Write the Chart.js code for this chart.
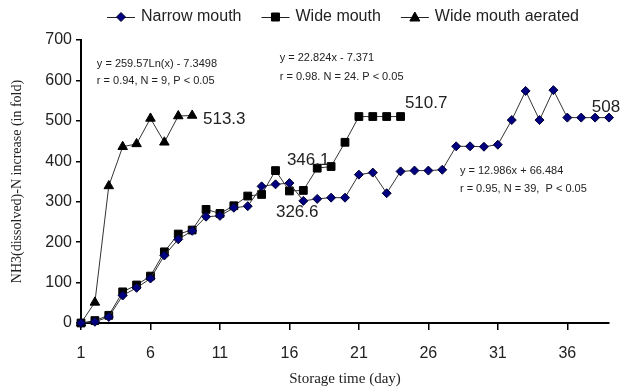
<!DOCTYPE html>
<html><head><meta charset="utf-8">
<script src="https://cdn.jsdelivr.net/npm/chart.js@4.4.0/dist/chart.umd.min.js"></script>
<style>html,body{margin:0;padding:0;background:#fff}#wrap{position:relative;width:622px;height:389px}</style>
</head><body><div id="wrap"><canvas id="c" width="622" height="389"></canvas></div>
<script>
// Storage day categories
const days = [1,2,3,4,5,6,7,8,9,10,11,12,13,14,15,16,17,18,19,20,21,22,23,24,25,26,27,28,29,30,31,32,33,34,35,36,37,38,39];
// Series values (NH3(dissolved)-N increase, in fold)
const narrowMouth = [0,3,15,68,87,110,167,207,228,263,265,285,289,338,343,346.1,302,307,310,310,367,372,321,375,377,377,379,437,437,436,441,502,574,502,576,508,508,508,508];
const wideMouth = [0,6,19,77,94,116,176,220,230,281,271,290,314,318,377,326.6,328,383,387,447,510.7,510.7,510.7,510.7];
const wideMouthAerated = [0,51,339,436,443,506,447,512,513.3];
// Tick labels
const xTicks = [1,6,11,16,21,26,31,36];
const yTicks = [0,100,200,300,400,500,600,700];
const seriesNames = ['Narrow mouth','Wide mouth','Wide mouth aerated'];

const toPts = (vals) => vals.map((v,i)=>({x: days[i], y: v}));

const annotations = [
  {text:'y = 259.57Ln(x) - 7.3498', x:2.14, y:640, size:11},
  {text:'r = 0.94, N = 9, P < 0.05', x:2.14, y:598, size:11},
  {text:'y = 22.824x - 7.371', x:15.30, y:655, size:11},
  {text:'r = 0.98. N = 24. P < 0.05', x:15.30, y:608, size:11},
  {text:'y = 12.986x + 66.484', x:28.27, y:377, size:11},
  {text:'r = 0.95, N = 39,  P < 0.05', x:28.27, y:332, size:11},
  {text:'513.3', x:9.78, y:505, size:17},
  {text:'510.7', x:24.31, y:544, size:17},
  {text:'508', x:37.76, y:534, size:17},
  {text:'346.1', x:15.82, y:402, size:17},
  {text:'326.6', x:15.03, y:274, size:17}
];

function drawMarker(ctx, kind, x, y){
  ctx.save();
  ctx.beginPath();
  if(kind==='diamond'){
    ctx.moveTo(x, y-4.5); ctx.lineTo(x+4.5, y); ctx.lineTo(x, y+4.5); ctx.lineTo(x-4.5, y); ctx.closePath();
    ctx.fillStyle='#000080'; ctx.strokeStyle='#000033';
  } else if(kind==='square'){
    ctx.rect(x-4, y-4, 8, 8); ctx.fillStyle='#000'; ctx.strokeStyle='#000';
  } else {
    ctx.moveTo(x, y-5); ctx.lineTo(x+5, y+4); ctx.lineTo(x-5, y+4); ctx.closePath();
    ctx.fillStyle='#000'; ctx.strokeStyle='#000';
  }
  ctx.fill(); ctx.lineWidth=1; ctx.stroke();
  ctx.restore();
}

const overlay = {
  id:'overlay',
  afterDraw(chart){
    const ctx = chart.ctx, xs = chart.scales.x, ys = chart.scales.y;
    ctx.save();
    ctx.fillStyle = '#222';
    ctx.textBaseline = 'middle';
    ctx.textAlign = 'left';
    annotations.forEach(a=>{
      ctx.font = a.size + 'px "Liberation Sans", Arial, sans-serif';
      ctx.fillText(a.text, xs.getPixelForValue(a.x), ys.getPixelForValue(a.y));
    });
    // legend
    const kinds = ['diamond','square','triangle'];
    ctx.font = '16px "Liberation Sans", Arial, sans-serif';
    let lx = 107; const ly = 17;
    seriesNames.forEach((name,i)=>{
      ctx.strokeStyle = '#222'; ctx.lineWidth = 1;
      ctx.beginPath(); ctx.moveTo(lx, ly+0.5); ctx.lineTo(lx+28, ly+0.5); ctx.stroke();
      drawMarker(ctx, kinds[i], lx+14, ly);
      ctx.fillStyle = '#222';
      ctx.fillText(name, lx+34, ly);
      lx += 34 + ctx.measureText(name).width + 20;
    });
    ctx.restore();
  }
};

new Chart(document.getElementById('c'), {
  type:'line',
  data:{datasets:[
    {label:seriesNames[0], data:toPts(narrowMouth), borderColor:'#333', borderWidth:1, pointStyle:'rectRot', pointRadius:4.5, pointBackgroundColor:'#000080', pointBorderColor:'#000033', pointBorderWidth:1, clip:false, order:0},
    {label:seriesNames[1], data:toPts(wideMouth), borderColor:'#333', borderWidth:1, pointStyle:'rect', pointRadius:5.5, pointBackgroundColor:'#000', pointBorderColor:'#000', pointBorderWidth:1, clip:false, order:1},
    {label:seriesNames[2], data:toPts(wideMouthAerated), borderColor:'#333', borderWidth:1, pointStyle:'triangle', pointRadius:5.5, pointBackgroundColor:'#000', pointBorderColor:'#000', pointBorderWidth:1, clip:false, order:2}
  ]},
  options:{
    animation:false, responsive:false, devicePixelRatio:1,
    layout:{padding:{left:0,right:13,top:40,bottom:0}},
    plugins:{legend:{display:false}, tooltip:{enabled:false}},
    scales:{
      x:{type:'linear', min:1, max:39,
        afterBuildTicks:(s)=>{ s.ticks = xTicks.map(v=>({value:v})); },
        ticks:{font:{family:'"Liberation Sans", Arial', size:16}, color:'#222', padding:14, maxRotation:0, autoSkip:false},
        grid:{drawOnChartArea:false, tickLength:7, color:'#000', lineWidth:1.5},
        border:{color:'#000', width:2},
        title:{display:true, text:'Storage time (day)', font:{family:'"Liberation Serif", "Times New Roman", serif', size:15}, color:'#222', padding:{top:0,bottom:1}},
        afterFit:(s)=>{ s.height = 66; }
      },
      y:{min:0, max:700,
        afterBuildTicks:(s)=>{ s.ticks = yTicks.map(v=>({value:v})); },
        ticks:{font:{family:'"Liberation Sans", Arial', size:16}, color:'#222', padding:4},
        grid:{drawOnChartArea:false, tickLength:5, color:'#000', lineWidth:1.5},
        border:{color:'#000', width:2},
        title:{display:true, text:'NH3(dissolved)-N increase (in fold)', font:{family:'"Liberation Serif", "Times New Roman", serif', size:14}, color:'#222', padding:{top:9,bottom:0}},
        afterFit:(s)=>{ s.width = 81; }
      }
    }
  },
  plugins:[overlay]
});
</script>
</body></html>
